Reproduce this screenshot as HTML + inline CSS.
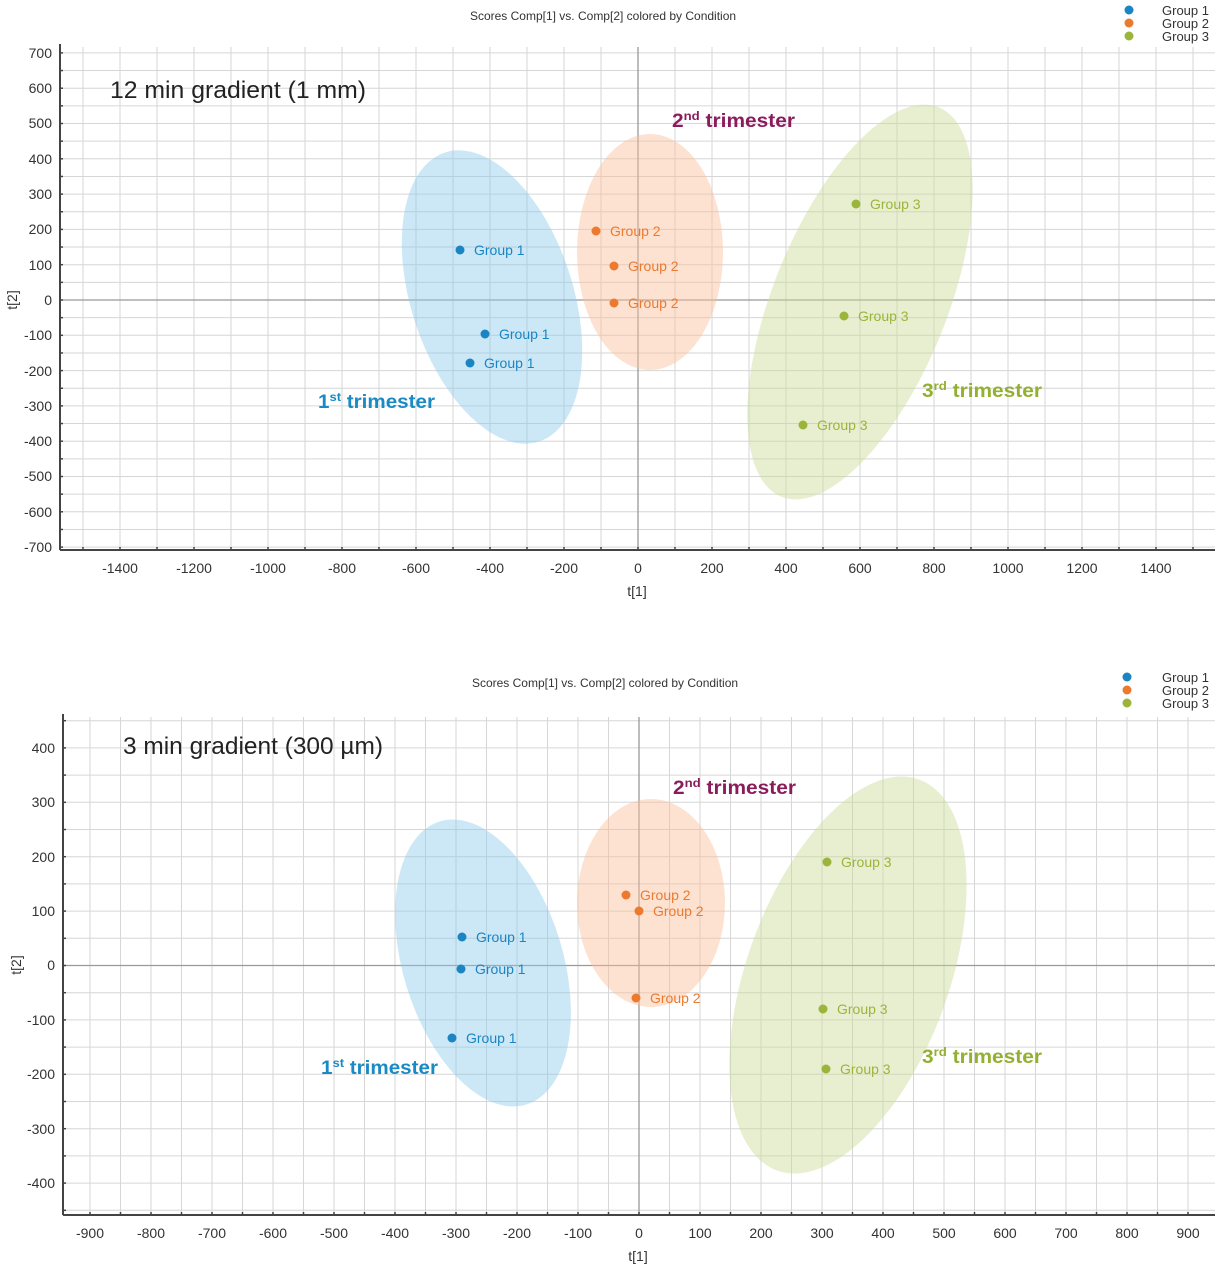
<!DOCTYPE html>
<html><head><meta charset="utf-8">
<style>
html,body{margin:0;padding:0;background:#fff;}
svg{display:block;font-family:"Liberation Sans",Arial,sans-serif;}
.tk{font-size:14px;fill:#333;}
.pl{font-size:14px;}
.tr{font-weight:bold;font-size:19px;}
</style></head><body>
<svg id="s" width="1226" height="1280" viewBox="0 0 1226 1280" xmlns="http://www.w3.org/2000/svg">
<g id="grid"></g>

<!-- ===== TOP CHART ===== -->
<text x="603" y="20" font-size="12" fill="#333" text-anchor="middle">Scores Comp[1] vs. Comp[2] colored by Condition</text>
<circle cx="1129" cy="10" r="4.5" fill="#1a85c2"/><text x="1162" y="15" font-size="13" fill="#333">Group 1</text>
<circle cx="1129" cy="23" r="4.5" fill="#ec7a2e"/><text x="1162" y="28" font-size="13" fill="#333">Group 2</text>
<circle cx="1129" cy="36" r="4.5" fill="#9ab53a"/><text x="1162" y="41" font-size="13" fill="#333">Group 3</text>

<ellipse cx="492" cy="297" rx="81" ry="152" transform="rotate(-18 492 297)" fill="#8fcbea" fill-opacity="0.45"/>
<ellipse cx="650" cy="252" rx="73" ry="118" fill="#fbbf98" fill-opacity="0.45"/>
<ellipse cx="860" cy="302" rx="87" ry="210" transform="rotate(22 860 302)" fill="#cddb9a" fill-opacity="0.45"/>

<g class="pl" fill="#1a85c2">
<circle cx="460" cy="250" r="4.5"/><text x="474" y="255">Group 1</text>
<circle cx="485" cy="334" r="4.5"/><text x="499" y="339">Group 1</text>
<circle cx="470" cy="363" r="4.5"/><text x="484" y="368">Group 1</text>
</g>
<g class="pl" fill="#ec7a2e">
<circle cx="596" cy="231" r="4.5"/><text x="610" y="236">Group 2</text>
<circle cx="614" cy="266" r="4.5"/><text x="628" y="271">Group 2</text>
<circle cx="614" cy="303" r="4.5"/><text x="628" y="308">Group 2</text>
</g>
<g class="pl" fill="#9ab53a">
<circle cx="856" cy="204" r="4.5"/><text x="870" y="209">Group 3</text>
<circle cx="844" cy="316" r="4.5"/><text x="858" y="321">Group 3</text>
<circle cx="803" cy="425" r="4.5"/><text x="817" y="430">Group 3</text>
</g>

<text x="110" y="98" font-size="24" fill="#222" textLength="256" lengthAdjust="spacingAndGlyphs">12 min gradient (1 mm)</text>
<text class="tr" x="318" y="408" fill="#1a8ac4" textLength="117" lengthAdjust="spacingAndGlyphs">1<tspan font-size="12" dy="-7">st</tspan><tspan dy="7"> trimester</tspan></text>
<text class="tr" x="672" y="127" fill="#8b1c5c" textLength="123" lengthAdjust="spacingAndGlyphs">2<tspan font-size="12" dy="-7">nd</tspan><tspan dy="7"> trimester</tspan></text>
<text class="tr" x="922" y="397" fill="#93b030" textLength="120" lengthAdjust="spacingAndGlyphs">3<tspan font-size="12" dy="-7">rd</tspan><tspan dy="7"> trimester</tspan></text>

<g class="tk" text-anchor="end">
<text x="52" y="58">700</text><text x="52" y="93">600</text><text x="52" y="128">500</text><text x="52" y="164">400</text><text x="52" y="199">300</text><text x="52" y="234">200</text><text x="52" y="270">100</text><text x="52" y="305">0</text><text x="52" y="340">-100</text><text x="52" y="376">-200</text><text x="52" y="411">-300</text><text x="52" y="446">-400</text><text x="52" y="481">-500</text><text x="52" y="517">-600</text><text x="52" y="552">-700</text>
</g>
<g class="tk" text-anchor="middle">
<text x="120" y="573">-1400</text><text x="194" y="573">-1200</text><text x="268" y="573">-1000</text><text x="342" y="573">-800</text><text x="416" y="573">-600</text><text x="490" y="573">-400</text><text x="564" y="573">-200</text><text x="638" y="573">0</text><text x="712" y="573">200</text><text x="786" y="573">400</text><text x="860" y="573">600</text><text x="934" y="573">800</text><text x="1008" y="573">1000</text><text x="1082" y="573">1200</text><text x="1156" y="573">1400</text>
</g>
<text class="tk" x="637" y="596" text-anchor="middle">t[1]</text>
<text class="tk" x="0" y="0" text-anchor="middle" transform="translate(17 300) rotate(-90)">t[2]</text>

<!-- ===== BOTTOM CHART ===== -->
<text x="605" y="687" font-size="12" fill="#333" text-anchor="middle">Scores Comp[1] vs. Comp[2] colored by Condition</text>
<circle cx="1127" cy="677" r="4.5" fill="#1a85c2"/><text x="1162" y="682" font-size="13" fill="#333">Group 1</text>
<circle cx="1127" cy="690" r="4.5" fill="#ec7a2e"/><text x="1162" y="695" font-size="13" fill="#333">Group 2</text>
<circle cx="1127" cy="703" r="4.5" fill="#9ab53a"/><text x="1162" y="708" font-size="13" fill="#333">Group 3</text>

<ellipse cx="483" cy="963" rx="80" ry="148" transform="rotate(-17 483 963)" fill="#8fcbea" fill-opacity="0.45"/>
<ellipse cx="651" cy="903" rx="74" ry="104" fill="#fbbf98" fill-opacity="0.45"/>
<ellipse cx="848" cy="975" rx="101" ry="208" transform="rotate(20 848 975)" fill="#cddb9a" fill-opacity="0.45"/>

<g class="pl" fill="#1a85c2">
<circle cx="462" cy="937" r="4.5"/><text x="476" y="942">Group 1</text>
<circle cx="461" cy="969" r="4.5"/><text x="475" y="974">Group 1</text>
<circle cx="452" cy="1038" r="4.5"/><text x="466" y="1043">Group 1</text>
</g>
<g class="pl" fill="#ec7a2e">
<circle cx="626" cy="895" r="4.5"/><text x="640" y="900">Group 2</text>
<circle cx="639" cy="911" r="4.5"/><text x="653" y="916">Group 2</text>
<circle cx="636" cy="998" r="4.5"/><text x="650" y="1003">Group 2</text>
</g>
<g class="pl" fill="#9ab53a">
<circle cx="827" cy="862" r="4.5"/><text x="841" y="867">Group 3</text>
<circle cx="823" cy="1009" r="4.5"/><text x="837" y="1014">Group 3</text>
<circle cx="826" cy="1069" r="4.5"/><text x="840" y="1074">Group 3</text>
</g>

<text x="123" y="754" font-size="24" fill="#222" textLength="260" lengthAdjust="spacingAndGlyphs">3 min gradient (300 µm)</text>
<text class="tr" x="321" y="1074" fill="#1a8ac4" textLength="117" lengthAdjust="spacingAndGlyphs">1<tspan font-size="12" dy="-7">st</tspan><tspan dy="7"> trimester</tspan></text>
<text class="tr" x="673" y="794" fill="#8b1c5c" textLength="123" lengthAdjust="spacingAndGlyphs">2<tspan font-size="12" dy="-7">nd</tspan><tspan dy="7"> trimester</tspan></text>
<text class="tr" x="922" y="1063" fill="#93b030" textLength="120" lengthAdjust="spacingAndGlyphs">3<tspan font-size="12" dy="-7">rd</tspan><tspan dy="7"> trimester</tspan></text>

<g class="tk" text-anchor="end">
<text x="55" y="753">400</text><text x="55" y="807">300</text><text x="55" y="862">200</text><text x="55" y="916">100</text><text x="55" y="970">0</text><text x="55" y="1025">-100</text><text x="55" y="1079">-200</text><text x="55" y="1134">-300</text><text x="55" y="1188">-400</text>
</g>
<g class="tk" text-anchor="middle">
<text x="90" y="1238">-900</text><text x="151" y="1238">-800</text><text x="212" y="1238">-700</text><text x="273" y="1238">-600</text><text x="334" y="1238">-500</text><text x="395" y="1238">-400</text><text x="456" y="1238">-300</text><text x="517" y="1238">-200</text><text x="578" y="1238">-100</text><text x="639" y="1238">0</text><text x="700" y="1238">100</text><text x="761" y="1238">200</text><text x="822" y="1238">300</text><text x="883" y="1238">400</text><text x="944" y="1238">500</text><text x="1005" y="1238">600</text><text x="1066" y="1238">700</text><text x="1127" y="1238">800</text><text x="1188" y="1238">900</text>
</g>
<text class="tk" x="638" y="1261" text-anchor="middle">t[1]</text>
<text class="tk" x="0" y="0" text-anchor="middle" transform="translate(21 965) rotate(-90)">t[2]</text>
</svg>
<script>
(function(){
var g=document.getElementById('grid'),ns='http://www.w3.org/2000/svg';
function L(x1,y1,x2,y2,c,w){var l=document.createElementNS(ns,'line');l.setAttribute('x1',x1);l.setAttribute('y1',y1);l.setAttribute('x2',x2);l.setAttribute('y2',y2);l.setAttribute('stroke',c);l.setAttribute('stroke-width',w);g.appendChild(l);}
function chart(o){
  var xs=[],ys=[];
  for(var v=o.xmin;v<=o.xmax;v+=o.xs){xs.push(v);}
  for(var v=o.ymin;v<=o.ymax;v+=o.ys){ys.push(v);}
  ys.forEach(function(v){var y=o.y0-v*o.ky;L(o.left,y,o.right,y,'#d6d6d6',1);});
  xs.forEach(function(v){var x=o.x0+v*o.kx;L(x,o.top,x,o.bottom,'#d6d6d6',1);});
  L(o.left,o.y0,o.right,o.y0,'#999',1.3);
  L(o.x0,o.top,o.x0,o.bottom,'#999',1.3);
  L(o.left,o.top-3,o.left,o.bottom,'#444',2);
  L(o.left,o.bottom,o.right,o.bottom,'#444',2);
  ys.forEach(function(v){var y=o.y0-v*o.ky;L(o.left,y,o.left+3,y,'#444',1.5);});
  xs.forEach(function(v){var x=o.x0+v*o.kx;L(x,o.bottom,x,o.bottom-3,'#444',1.5);});
}
chart({xmin:-1500,xmax:1500,xs:100,ymin:-700,ymax:700,ys:50,x0:638,kx:0.37,y0:300,ky:0.353,left:60,right:1215,top:47,bottom:550});
chart({xmin:-900,xmax:900,xs:50,ymin:-450,ymax:450,ys:50,x0:639,kx:0.61,y0:965.5,ky:0.544,left:63,right:1215,top:717,bottom:1215});
})();
</script>
</body></html>
